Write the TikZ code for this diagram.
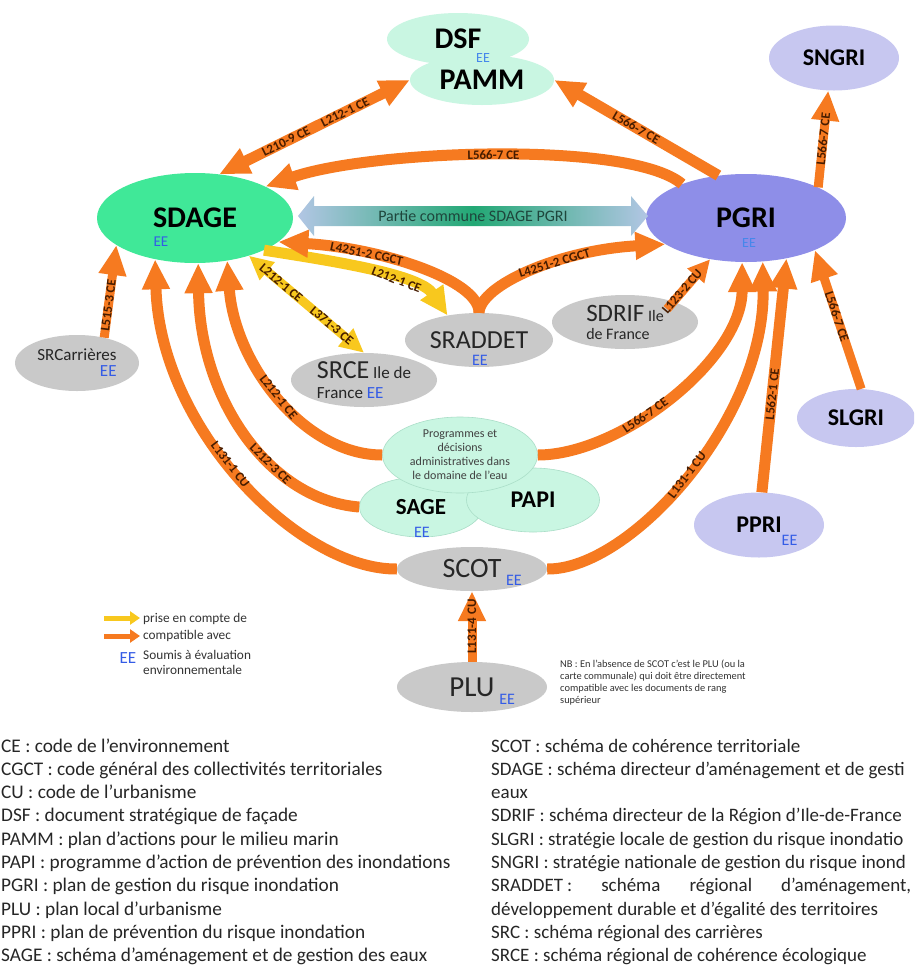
\documentclass[tikz,border=0pt]{standalone}
\usepackage{fontspec}
\setmainfont{Carlito}
\usetikzlibrary{arrows.meta,shapes.geometric}

\definecolor{sdagegreen}{RGB}{64,232,152}
\definecolor{mint}{RGB}{201,246,226}
\definecolor{mintline}{RGB}{170,222,200}
\definecolor{lavender}{RGB}{199,199,240}
\definecolor{pgriblue}{RGB}{142,142,232}
\definecolor{docgray}{RGB}{201,201,201}
\definecolor{eeblue}{RGB}{52,92,230}
\definecolor{eelight}{RGB}{70,135,235}
\definecolor{compor}{RGB}{246,122,32}
\definecolor{priseyel}{RGB}{248,200,30}
\definecolor{lawbrown}{RGB}{70,28,0}
\definecolor{commonblue}{RGB}{178,198,228}
\definecolor{commongreen}{RGB}{34,168,116}
\definecolor{commontext}{RGB}{30,70,60}

\newcommand{\eemark}[1]{{\normalfont\color{eeblue}\fontsize{#1}{#1}\selectfont EE}}

\begin{document}
\begin{tikzpicture}[x=1pt,y=-1pt]
\tikzset{
  plan/.style={ellipse, inner sep=0pt, align=center},
  water/.style={plan, fill=mint},
  waterpart/.style={water, draw=mintline, line width=0.6pt},
  flood/.style={plan, fill=lavender, font=\fontsize{24}{24}\selectfont\bfseries},
  urba/.style={plan, fill=docgray, text=black!85},
  ee/.style={inner sep=0pt, text=eeblue, font=\fontsize{15}{15}\selectfont},
  comp/.style={draw=compor, line width=11pt, -{Triangle[length=30pt,width=26pt]}},
  compboth/.style={comp, {Triangle[length=30pt,width=26pt]}-{Triangle[length=30pt,width=26pt]}},
  prise/.style={draw=priseyel, line width=11pt, -{Triangle[length=28pt,width=26pt]}},
  law/.style={sloped, inner sep=0pt, text=lawbrown, font=\fontsize{13}{13}\selectfont\bfseries},
  gloss/.style={anchor=base west, inner sep=0pt, text=black!85, font=\fontsize{19.3}{19.3}\selectfont},
  glossr/.style={gloss, font=\fontsize{19}{19}\selectfont},
  keytext/.style={anchor=west, inner sep=0pt, text=black!80, font=\fontsize{13.3}{15}\selectfont}
}
\useasboundingbox[fill=white] (0,0) rectangle (914,967);
\clip (0,0) rectangle (914,967);

% plans and schemes
\node[water, minimum width=142pt, minimum height=52pt, font=\fontsize{30}{30}\selectfont\bfseries] (dsf) at (458,39) {DSF};
\node[water, minimum width=144pt, minimum height=50pt, font=\fontsize{30}{30}\selectfont\bfseries] (pamm) at (482,80) {PAMM};
\node[ee, text=eelight, font=\fontsize{14}{14}\selectfont] (dsf-ee) at (483,58) {EE};
\node[flood, minimum width=130pt, minimum height=65pt] (sngri) at (834,58) {SNGRI};

\node[plan, fill=sdagegreen, minimum width=196pt, minimum height=90pt, font=\fontsize{30}{30}\selectfont\bfseries] (sdage) at (195,218) {SDAGE};
\node[ee] (sdage-ee) at (161,242) {EE};
\node[plan, fill=pgriblue, minimum width=200pt, minimum height=88pt, font=\fontsize{30}{30}\selectfont\bfseries] (pgri) at (746,218) {PGRI};
\node[ee, text=eelight, font=\fontsize{14}{14}\selectfont] (pgri-ee) at (749,243) {EE};

% common part, double arrow
\shade[left color=commonblue, right color=commonblue, middle color=commongreen]
  (298,216) -- (314,196) -- (314,206) -- (631,206) -- (631,196) -- (648,216)
  -- (631,236) -- (631,226) -- (314,226) -- (314,236) -- cycle;
\node[inner sep=0pt, text=commontext, font=\fontsize{16}{16}\selectfont] (common) at (473,216) {Partie commune SDAGE PGRI};

\node[urba, minimum width=124pt, minimum height=56pt, font=\fontsize{17}{16}\selectfont, align=right] (srcar) at (77,363) {SRCarrières\\\eemark{17}};
\node[urba, minimum width=146pt, minimum height=54pt, font=\fontsize{17}{20}\selectfont, align=left] (srce) at (364,380) {{\fontsize{26}{26}\selectfont SRCE} Ile de\\France \eemark{17}};
\node[urba, minimum width=148pt, minimum height=54pt, font=\fontsize{26}{26}\selectfont] (sraddet) at (479,340) {SRADDET};
\node[ee, font=\fontsize{16}{16}\selectfont] (sraddet-ee) at (480,360) {EE};
\node[urba, minimum width=146pt, minimum height=54pt, font=\fontsize{16}{18}\selectfont, align=left] (sdrif) at (625,322) {{\fontsize{25}{25}\selectfont SDRIF} Ile\\de France};
\node[flood, minimum width=118pt, minimum height=58pt] (slgri) at (856,418) {SLGRI};
\node[flood, minimum width=130pt, minimum height=65pt] (ppri) at (759,525) {PPRI\rlap{\smash{\raisebox{-13pt}{\eemark{16}}}}};

\node[waterpart, minimum width=123pt, minimum height=60pt, font=\fontsize{23}{23}\selectfont\bfseries] (sage) at (421,507) {SAGE};
\node[ee, font=\fontsize{16}{16}\selectfont] (sage-ee) at (422,532) {EE};
\node[waterpart, minimum width=133pt, minimum height=64pt, font=\fontsize{24}{24}\selectfont\bfseries] (papi) at (533,500) {PAPI};
\node[waterpart, minimum width=155pt, minimum height=76pt, text=black!75, font=\fontsize{12}{14}\selectfont] (prog) at (460,455)
  {Programmes et\\décisions\\administratives dans\\le domaine de l’eau};
\node[urba, minimum width=150pt, minimum height=44pt, font=\fontsize{28}{28}\selectfont] (scot) at (472,569) {SCOT\rlap{\smash{\raisebox{-8pt}{\,\eemark{16}}}}};
\node[urba, minimum width=150pt, minimum height=50pt, font=\fontsize{29}{29}\selectfont] (plu) at (472,687) {PLU\rlap{\smash{\raisebox{-8pt}{\,\eemark{16}}}}};

% prise en compte
\draw[prise] (sdage.-25) .. controls (340,262) and (420,275) .. node[law, pos=0.62] {L212-1 CE} (sraddet.142);
\draw[prise, line width=9pt, {Triangle[length=24pt,width=22pt]}-{Triangle[length=24pt,width=22pt]}] (sdage.-35)
  -- node[law, pos=0.28] {L212-1 CE} node[law, pos=0.72] {L371-3 CE} (srce.north);

% compatible avec
\draw[compboth] (sdage.61) -- node[law, pos=0.35] {L210-9 CE} node[law, pos=0.66] {L212-1 CE} (pamm.west);
\draw[comp] (pgri.123) -- node[law, pos=0.5] {L566-7 CE} (pamm.east);
\draw[comp] (pgri.152) .. controls (630,140) and (370,150) .. node[law, pos=0.5] {L566-7 CE} (sdage.24);
\draw[comp, line width=9pt] (pgri.23) -- node[law, pos=0.5] {L566-7 CE} (sngri.-100);
\draw[comp] (sraddet.north) .. controls (480,280) and (380,248) .. node[law, pos=0.7] {L4251-2 CGCT} (sdage.-16);
\draw[comp] (sraddet.north) .. controls (480,285) and (560,250) .. node[law, pos=0.6] {L4251-2 CGCT} (pgri.198);
\draw[comp, line width=9pt] (srcar.43) -- node[law, pos=0.35] {L515-3 CE} (sdage.199);

\draw[comp] (prog.west) .. controls (305,455) and (235,365) .. node[law, pos=0.5] {L212-1 CE} (sdage.-53);
\draw[comp] (sage.west) .. controls (270,500) and (200,400) .. node[law, pos=0.37] {L212-3 CE} (sdage.-86);
\draw[comp] (scot.west) .. controls (300,570) and (160,430) .. node[law, pos=0.54] {L131-1 CU} (sdage.-134);

\draw[comp] (prog.east) .. controls (620,455) and (742,360) .. node[law, pos=0.4] {L566-7 CE} (pgri.-95);
\draw[comp] (scot.east) .. controls (630,570) and (765,420) .. node[law, pos=0.5] {L131-1 CU} (pgri.-69);
\draw[comp] (ppri.85) -- node[law, pos=0.42] {L562-1 CE} (pgri.-45);
\draw[comp, line width=9pt, -{Triangle[length=22pt,width=21pt]}] ([xshift=42pt,yshift=13pt]sdrif.center) -- node[law, pos=0.35] {L123-2 CU} (pgri.-131);
\draw[comp, line width=9pt] (slgri.80) -- node[law, pos=0.52] {L566-7 CE} (pgri.-25);
\draw[comp, line width=9pt] (plu.north) -- node[law, pos=0.5] {L131-4 CU} (scot.south);

% key
\coordinate (key-y1) at (104,618);
\coordinate (key-y2) at (140,618);
\coordinate (key-o1) at (104,636);
\coordinate (key-o2) at (140,636);
\draw[draw=priseyel, line width=5pt, -{Triangle[length=10pt,width=13pt]}] (key-y1) -- (key-y2);
\draw[draw=compor, line width=5pt, -{Triangle[length=10pt,width=13pt]}] (key-o1) -- (key-o2);
\node[keytext] (key-prise) at (143,619) {prise en compte de};
\node[keytext] (key-comp) at (143,636) {compatible avec};
\node[ee, font=\fontsize{17}{17}\selectfont] (key-ee) at (128,658) {EE};
\node[keytext, anchor=north west, align=left] (key-eval) at (143,650) {Soumis à évaluation\\environnementale};

\node[anchor=north west, align=left, inner sep=0pt, text=black!80, font=\fontsize{10.4}{12}\selectfont] (nb) at (560,660)
  {NB : En l’absence de SCOT c’est le PLU (ou la\\carte communale) qui doit être directement\\compatible avec les documents de rang\\supérieur};

% acronyms
\node[gloss] (gl-ce) at (1,752) {CE : code de l’environnement};
\node[gloss] (gl-cgct) at (1,775.3) {CGCT : code général des collectivités territoriales};
\node[gloss] (gl-cu) at (1,798.6) {CU : code de l’urbanisme};
\node[gloss] (gl-dsf) at (1,821.9) {DSF : document stratégique de façade};
\node[gloss] (gl-pamm) at (1,845.2) {PAMM : plan d’actions pour le milieu marin};
\node[gloss] (gl-papi) at (1,868.5) {PAPI : programme d’action de prévention des inondations};
\node[gloss] (gl-pgri) at (1,891.8) {PGRI : plan de gestion du risque inondation};
\node[gloss] (gl-plu) at (1,915.1) {PLU : plan local d’urbanisme};
\node[gloss] (gl-ppri) at (1,938.4) {PPRI : plan de prévention du risque inondation};
\node[gloss] (gl-sage) at (1,961.7) {SAGE : schéma d’aménagement et de gestion des eaux};

\node[glossr] (gl-scot) at (491,752) {SCOT : schéma de cohérence territoriale};
\node[glossr] (gl-sdage) at (491,775.3) {SDAGE : schéma directeur d’aménagement et de gesti};
\node[glossr] (gl-eaux) at (491,798.6) {eaux};
\node[glossr] (gl-sdrif) at (491,821.9) {SDRIF : schéma directeur de la Région d’Ile-de-France};
\node[glossr] (gl-slgri) at (491,845.2) {SLGRI : stratégie locale de gestion du risque inondatio};
\node[glossr] (gl-sngri) at (491,868.5) {SNGRI : stratégie nationale de gestion du risque inond};
\node[glossr] (gl-sraddet) at (491,891.8) {\makebox[420pt][s]{SRADDET\hspace{4pt}: schéma régional d’aménagement,}};
\node[glossr] (gl-dev) at (491,915.1) {développement durable et d’égalité des territoires};
\node[glossr] (gl-src) at (491,938.4) {SRC : schéma régional des carrières};
\node[glossr] (gl-srce) at (491,961.7) {SRCE : schéma régional de cohérence écologique};
\end{tikzpicture}
\end{document}
